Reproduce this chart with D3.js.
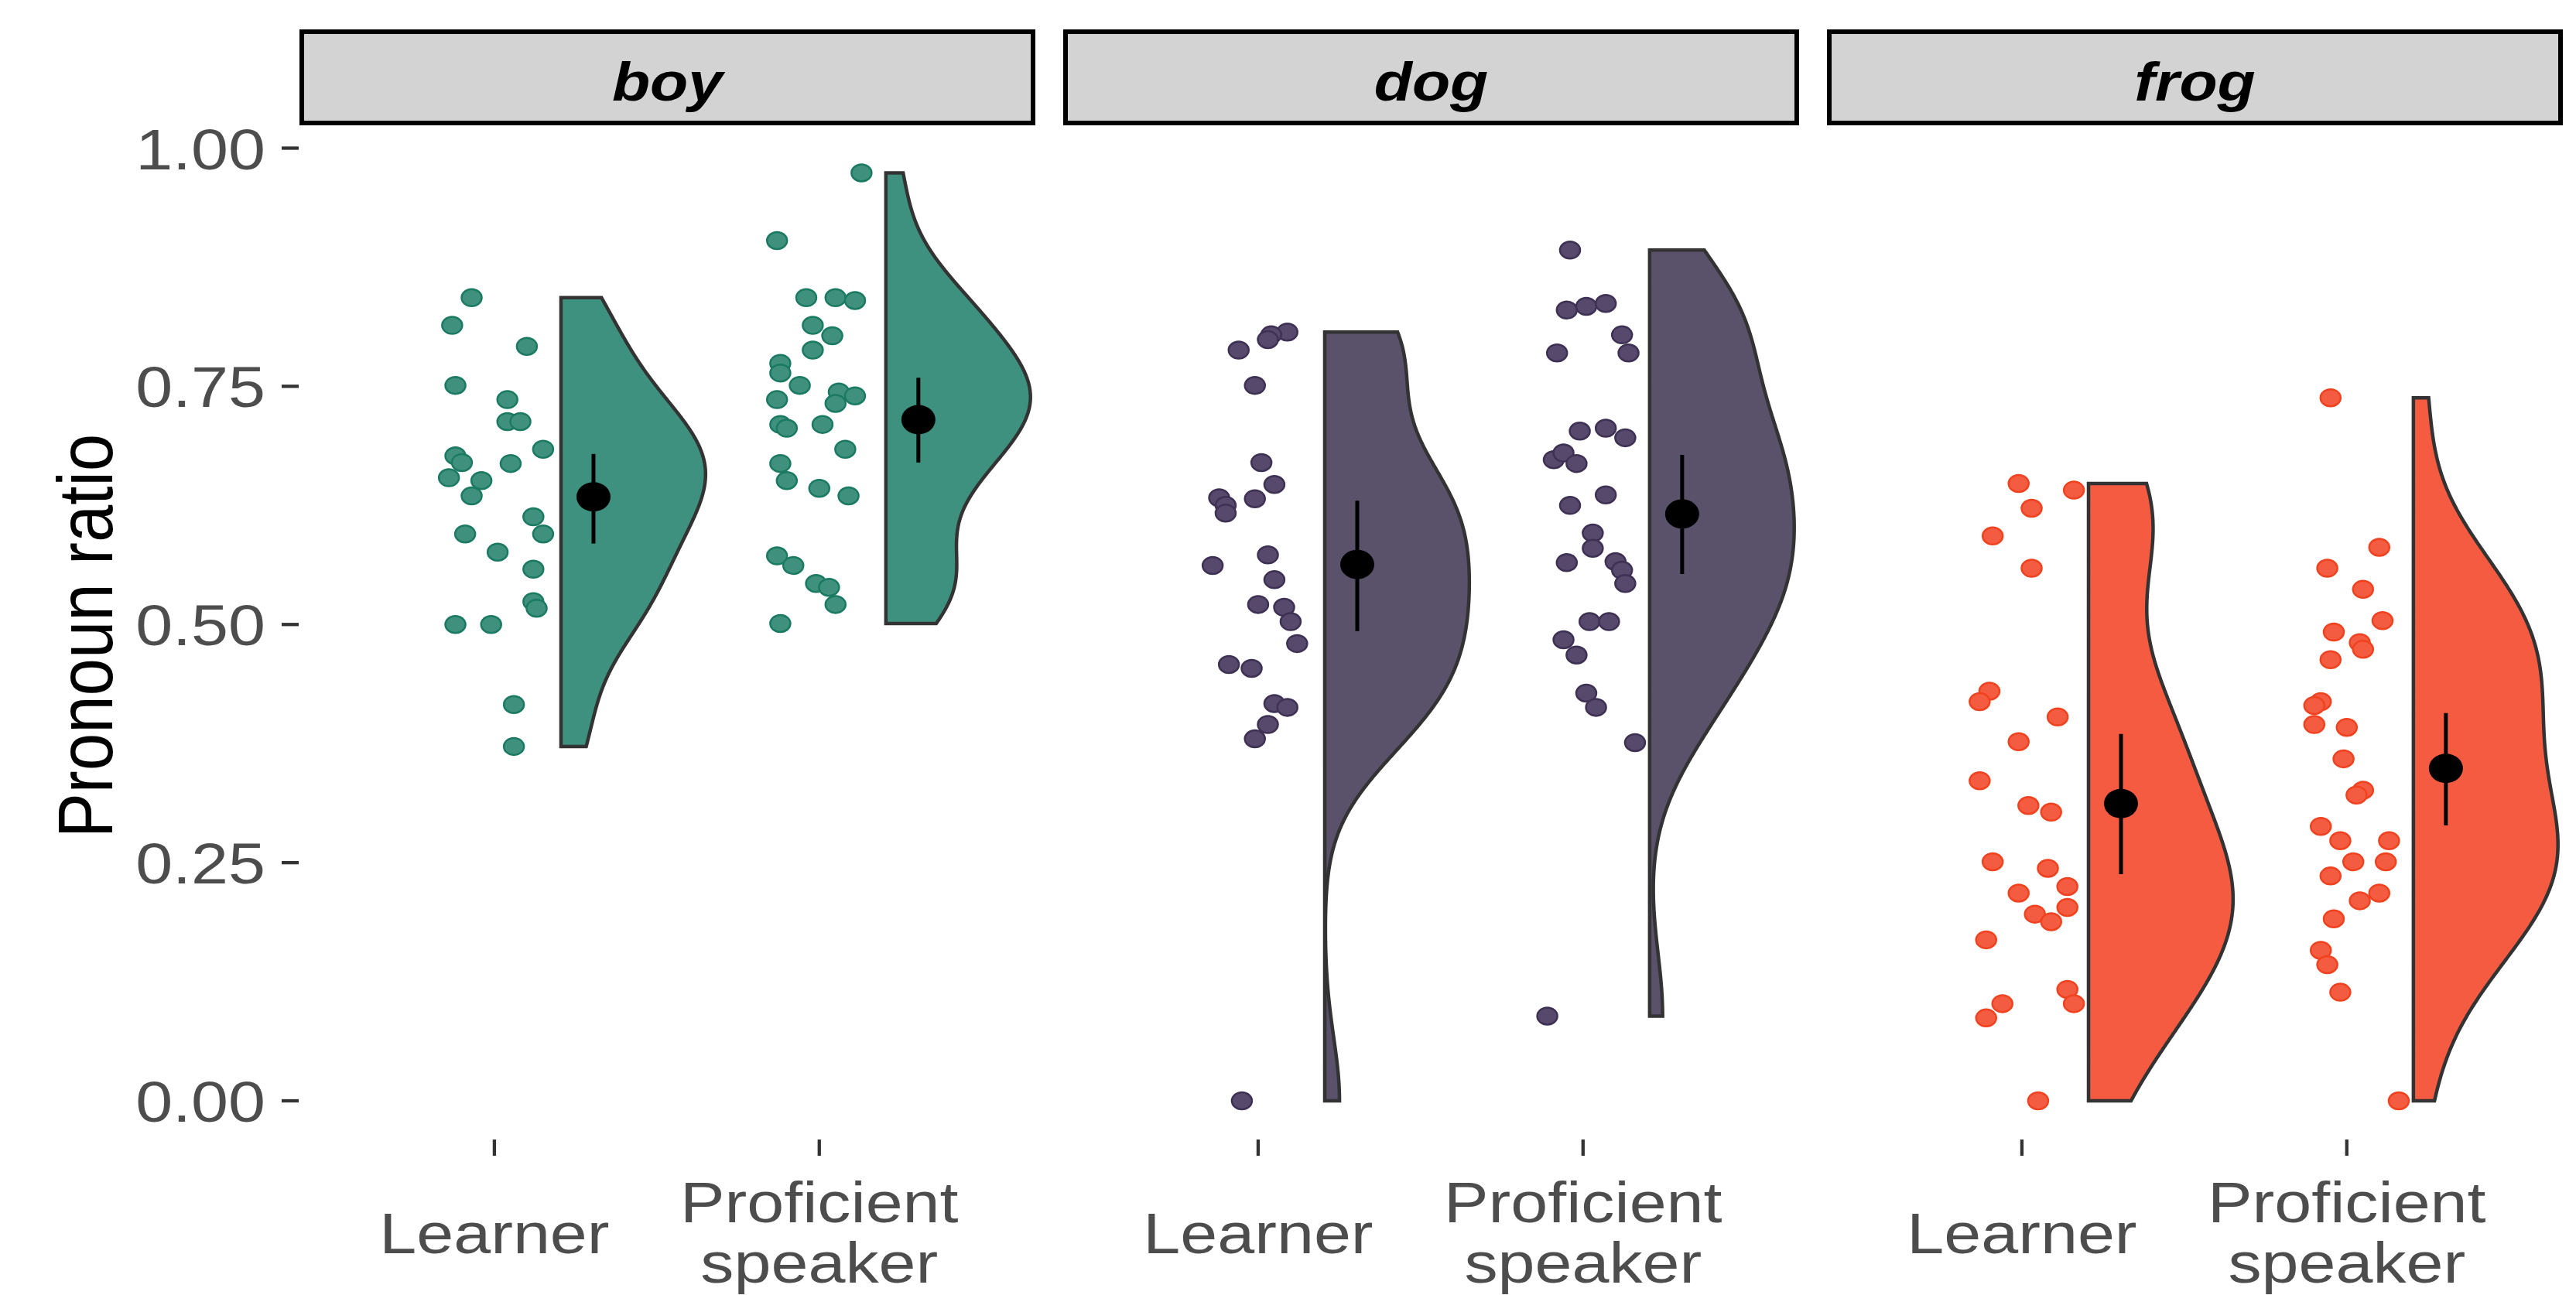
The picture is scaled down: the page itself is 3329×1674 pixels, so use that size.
<!DOCTYPE html>
<html>
<head>
<meta charset="utf-8">
<script src="https://cdn.jsdelivr.net/npm/d3@7"></script>
<style>
  html, body { margin: 0; padding: 0; background: #fff; }
  svg { display: block; }
</style>
</head>
<body>
<div id="chart"></div>
<script>
var panels = ["boy", "dog", "frog"];
var groups = ["Learner", "Proficient speaker"];
var yTicks = [0, 0.25, 0.5, 0.75, 1];

// pronoun ratios per participant
var boyLearner = [0.843, 0.814, 0.792, 0.751, 0.736, 0.713, 0.713, 0.684, 0.677, 0.670, 0.669, 0.654, 0.651, 0.635, 0.613, 0.595, 0.595, 0.576, 0.558, 0.524, 0.517, 0.500, 0.500, 0.416, 0.372];
var boyLearnerJitter = [-0.07, -0.13, 0.10, -0.12, 0.04, 0.04, 0.08, 0.15, -0.12, -0.10, 0.05, -0.14, -0.04, -0.07, 0.12, -0.09, 0.15, 0.01, 0.12, 0.12, 0.13, -0.12, -0.01, 0.06, 0.06];
var boyProficient = [0.974, 0.903, 0.843, 0.843, 0.840, 0.814, 0.803, 0.788, 0.774, 0.764, 0.751, 0.736, 0.744, 0.740, 0.732, 0.710, 0.706, 0.710, 0.684, 0.669, 0.651, 0.643, 0.635, 0.572, 0.562, 0.543, 0.539, 0.521, 0.501];
var boyProficientJitter = [0.13, -0.13, -0.04, 0.05, 0.11, -0.02, 0.04, -0.02, -0.12, -0.12, -0.06, -0.13, 0.06, 0.11, 0.05, -0.12, -0.10, 0.01, 0.08, -0.12, -0.10, 0.00, 0.09, -0.13, -0.08, -0.01, 0.03, 0.05, -0.12];
var dogLearner = [0.807, 0.804, 0.799, 0.788, 0.751, 0.670, 0.647, 0.633, 0.625, 0.617, 0.632, 0.573, 0.562, 0.547, 0.521, 0.518, 0.503, 0.480, 0.458, 0.454, 0.417, 0.413, 0.395, 0.380, 0.000];
var dogLearnerJitter = [0.09, 0.04, 0.03, -0.06, -0.01, 0.01, 0.05, -0.12, -0.10, -0.10, -0.01, 0.03, -0.14, 0.05, 0.00, 0.08, 0.10, 0.12, -0.09, -0.02, 0.05, 0.09, 0.03, -0.01, -0.05];
var dogProficient = [0.893, 0.830, 0.834, 0.837, 0.804, 0.785, 0.785, 0.703, 0.706, 0.696, 0.673, 0.680, 0.669, 0.625, 0.636, 0.596, 0.580, 0.565, 0.566, 0.557, 0.543, 0.503, 0.503, 0.484, 0.468, 0.428, 0.413, 0.376, 0.089];
var dogProficientJitter = [-0.04, -0.05, 0.01, 0.07, 0.12, -0.08, 0.14, -0.01, 0.07, 0.13, -0.09, -0.06, -0.02, -0.04, 0.07, 0.03, 0.03, -0.05, 0.10, 0.12, 0.13, 0.02, 0.08, -0.06, -0.02, 0.01, 0.04, 0.16, -0.11];
var frogLearner = [0.648, 0.641, 0.622, 0.593, 0.559, 0.430, 0.419, 0.403, 0.377, 0.336, 0.310, 0.303, 0.251, 0.244, 0.225, 0.218, 0.203, 0.196, 0.188, 0.169, 0.117, 0.102, 0.102, 0.087, 0.000];
var frogLearnerJitter = [-0.01, 0.16, 0.03, -0.09, 0.03, -0.10, -0.13, 0.11, -0.01, -0.13, 0.02, 0.09, -0.09, 0.08, 0.14, -0.01, 0.14, 0.04, 0.09, -0.11, 0.14, 0.16, -0.06, -0.11, 0.05];
var frogProficient = [0.738, 0.581, 0.559, 0.537, 0.504, 0.492, 0.481, 0.474, 0.463, 0.419, 0.415, 0.395, 0.392, 0.359, 0.326, 0.321, 0.288, 0.273, 0.273, 0.251, 0.251, 0.236, 0.218, 0.210, 0.191, 0.158, 0.143, 0.114, 0.000];
var frogProficientJitter = [-0.05, 0.10, -0.06, 0.05, 0.11, -0.04, 0.04, 0.05, -0.05, -0.08, -0.10, -0.10, 0.00, -0.01, 0.05, 0.03, -0.08, -0.02, 0.13, 0.02, 0.12, -0.05, 0.10, 0.04, -0.04, -0.08, -0.06, -0.02, 0.16];

// group means with error bars, order: boy L, boy P, dog L, dog P, frog L, frog P
var means = [0.634, 0.715, 0.563, 0.616, 0.312, 0.349];
var errLow = [0.585, 0.670, 0.493, 0.553, 0.238, 0.289];
var errHigh = [0.679, 0.759, 0.630, 0.678, 0.385, 0.407];

var width = 3329, height = 1674;
var colors = { boy: ["#3e917e", "#3f917d", "#1b7a62"], dog: ["#5a516b", "#56496b", "#3e3154"], frog: ["#f55b40", "#f45c42", "#f0421f"] };
var stretch = 1.15;

var series = {
    boy: [[boyLearner, boyLearnerJitter], [boyProficient, boyProficientJitter]],
    dog: [[dogLearner, dogLearnerJitter], [dogProficient, dogProficientJitter]],
    frog: [[frogLearner, frogLearnerJitter], [frogProficient, frogProficientJitter]]
};

var svg = d3.select("#chart").append("svg")
    .attr("width", width)
    .attr("height", height);

var px = d3.scaleBand().domain(panels).range([387, 3312]).paddingInner(0.0365);
var x = d3.scaleLinear().domain([0.4, 2.665]).range([0, px.bandwidth()]);
var y = d3.scaleLinear().domain([0, 1]).range([1423, 191.5]);
var panelBottom = 1473;

// ggplot style gaussian kde, bw.nrd0, trimmed to data range
var kde = function(values) {
    var sorted = values.slice().sort(d3.ascending);
    var n = values.length;
    var iqr = d3.quantile(sorted, 0.75) - d3.quantile(sorted, 0.25);
    var bw = 0.9 * Math.min(d3.deviation(values), iqr / 1.34) * Math.pow(n, -0.2);
    var ext = d3.extent(values);
    return d3.range(512).map(function(i) {
        var v = ext[0] + (ext[1] - ext[0]) * i / 511;
        var d = d3.mean(values, function(s) {
            var z = (v - s) / bw;
            return Math.exp(-0.5 * z * z) / Math.sqrt(2 * Math.PI);
        }) / bw;
        return [v, d];
    });
};

var stretchText = function(sel, tx, ty) {
    sel.attr("transform", "translate(" + tx + "," + ty + ") scale(" + stretch + ",1)");
};

// y axis
var yAxis = svg.append("g");
yTicks.forEach(function(t) {
    yAxis.append("line")
        .attr("x1", 364).attr("x2", 386)
        .attr("y1", y(t)).attr("y2", y(t))
        .attr("stroke", "#333333").attr("stroke-width", 4.3);
    yAxis.append("text")
        .attr("text-anchor", "end")
        .attr("font-family", "Liberation Sans, Arial, sans-serif")
        .attr("font-size", 75)
        .attr("fill", "#4d4d4d")
        .attr("dy", "0.36em")
        .text(d3.format(".2f")(t))
        .call(stretchText, 343, y(t));
});

svg.append("text")
    .attr("text-anchor", "middle")
    .attr("font-family", "Liberation Sans, Arial, sans-serif")
    .attr("font-size", 87)
    .attr("fill", "#000")
    .attr("transform", "translate(145,822) rotate(-90) scale(1," + stretch + ")")
    .text("Pronoun ratio");

var area = d3.area()
    .y(function(d) { return y(d[0]); });

panels.forEach(function(p, pi) {
    var g = svg.append("g").attr("transform", "translate(" + px(p) + ",0)");
    var col = colors[p];

    // strip
    g.append("rect")
        .attr("x", 3).attr("y", 41)
        .attr("width", px.bandwidth() - 6).attr("height", 118)
        .attr("fill", "#d3d3d3")
        .attr("stroke", "#000").attr("stroke-width", 6);
    g.append("text")
        .attr("text-anchor", "middle")
        .attr("font-family", "Liberation Sans, Arial, sans-serif")
        .attr("font-size", 70)
        .attr("font-weight", "bold")
        .attr("font-style", "italic")
        .attr("fill", "#000")
        .text(p)
        .call(stretchText, px.bandwidth() / 2, 130);

    series[p].forEach(function(s, gi) {
        var values = s[0], jitter = s[1];
        var pos = gi + 1;
        var dens = kde(values);
        var maxD = d3.max(dens, function(d) { return d[1]; });
        var w = d3.scaleLinear().domain([0, maxD]).range([0, x(pos + 0.445) - x(pos)]);
        var base = x(pos + 0.205);

        g.append("path")
            .datum(dens)
            .attr("d", area.x0(base).x1(function(d) { return base + w(d[1]); }))
            .attr("fill", col[0])
            .attr("stroke", "#333333")
            .attr("stroke-width", 4.5)
            .attr("stroke-linejoin", "miter");

        g.selectAll(null)
            .data(values)
            .enter().append("ellipse")
            .attr("cx", function(d, i) { return x(pos + jitter[i]); })
            .attr("cy", function(d) { return y(d); })
            .attr("rx", 13).attr("ry", 11)
            .attr("fill", col[1])
            .attr("stroke", col[2])
            .attr("stroke-width", 2.5);

        var k = pi * 2 + gi;
        var mx = x(pos + 0.305);
        g.append("line")
            .attr("x1", mx).attr("x2", mx)
            .attr("y1", y(errLow[k])).attr("y2", y(errHigh[k]))
            .attr("stroke", "#000").attr("stroke-width", 5);
        g.append("ellipse")
            .attr("cx", mx).attr("cy", y(means[k]))
            .attr("rx", 22).attr("ry", 19)
            .attr("fill", "#000");

        // x tick + label
        g.append("line")
            .attr("x1", x(pos)).attr("x2", x(pos))
            .attr("y1", panelBottom).attr("y2", panelBottom + 21)
            .attr("stroke", "#333333").attr("stroke-width", 4.3);
        var words = groups[gi].split(" ");
        var lab = g.append("text")
            .attr("text-anchor", "middle")
            .attr("font-family", "Liberation Sans, Arial, sans-serif")
            .attr("font-size", 75)
            .attr("fill", "#4d4d4d")
            .call(stretchText, x(pos), 0);
        if (words.length === 1) {
            lab.append("tspan").attr("x", 0).attr("y", 1620).text(words[0]);
        } else {
            lab.append("tspan").attr("x", 0).attr("y", 1580).text(words[0]);
            lab.append("tspan").attr("x", 0).attr("y", 1658).text(words[1]);
        }
    });
});
</script>
</body>
</html>
